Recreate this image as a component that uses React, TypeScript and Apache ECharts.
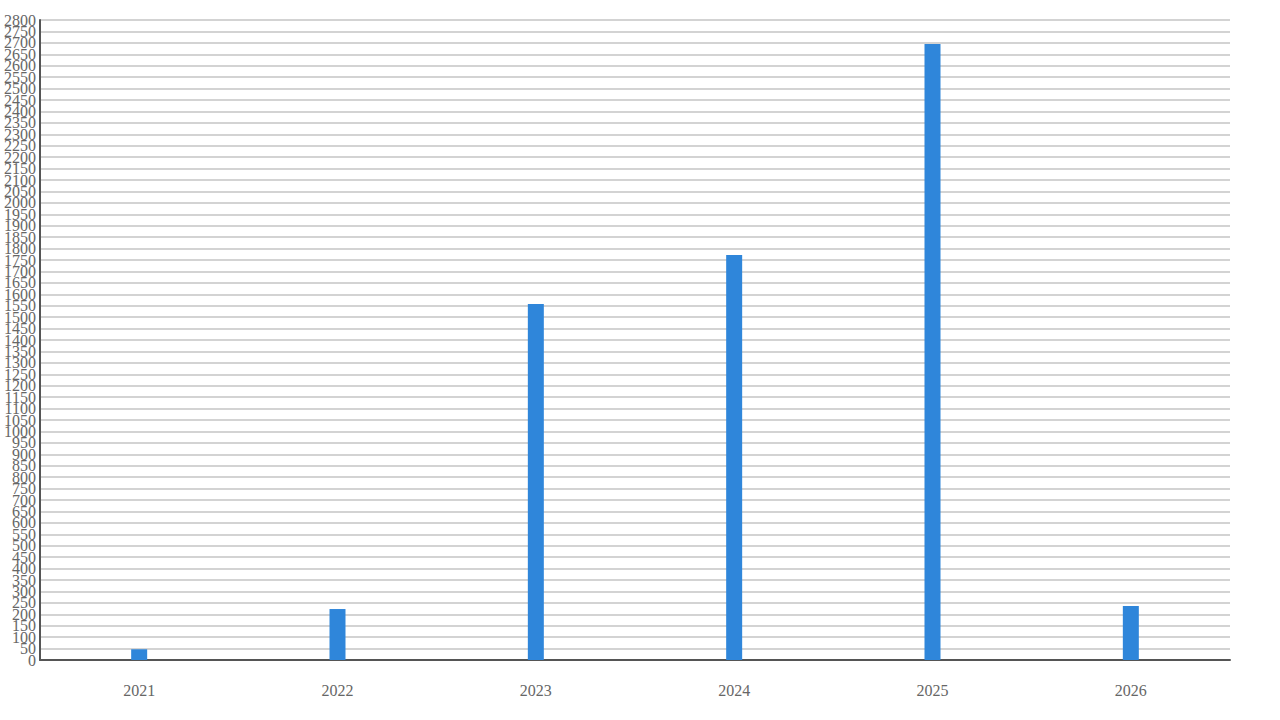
import React, { useEffect, useRef } from "react";
import * as echarts from "echarts";

// Years on the x axis
const years = ["2021", "2022", "2023", "2024", "2025", "2026"];
// Bar values
const values = [47, 223, 1557, 1772, 2695, 236];
// Value axis range
const yMin = 0;
const yMax = 2800;
const yStep = 50;

const labelStyle = {
  color: "#666666",
  fontSize: 16,
  margin: 4,
  formatter: (v: number) => String(v),
};

const App: React.FC = () => {
  const chartRef = useRef<HTMLDivElement>(null);

  useEffect(() => {
    if (!chartRef.current) return;

    const chart = echarts.init(chartRef.current, undefined, { renderer: "svg" });

    const option: echarts.EChartsOption = {
      animation: false,
      textStyle: { fontFamily: "'Liberation Serif', serif" },
      grid: { left: 40, right: 50, top: 20, bottom: 60, containLabel: false },
      xAxis: {
        type: "category",
        data: years,
        axisLine: { lineStyle: { color: "#555555", width: 2 } },
        axisTick: { show: false },
        axisLabel: { color: "#666666", fontSize: 16, margin: 22 },
      },
      yAxis: [
        {
          type: "value",
          min: yMin,
          max: yMax,
          interval: yStep,
          axisLine: { show: true, lineStyle: { color: "#555555", width: 2 } },
          axisTick: { show: false },
          axisLabel: { ...labelStyle, hideOverlap: false },
          splitLine: { lineStyle: { color: "#d3d3d3", width: 2 } },
        },
        {
          // carries the end labels (0 and 2800) that the packed axis drops
          type: "value",
          position: "left",
          min: yMin,
          max: yMax,
          interval: yMax - yMin,
          axisLine: { show: false },
          axisTick: { show: false },
          splitLine: { show: false },
          axisLabel: { ...labelStyle },
        },
      ],
      series: [
        {
          type: "bar",
          data: values,
          barWidth: 16,
          itemStyle: { color: "#2f86da" },
        },
      ],
    };

    chart.setOption(option);

    return () => {
      chart.dispose();
    };
  }, []);

  return (
    <div
      ref={chartRef}
      style={{ position: "fixed", left: 0, top: 0, width: "1280px", height: "720px", background: "#ffffff" }}
    />
  );
};

export default App;
